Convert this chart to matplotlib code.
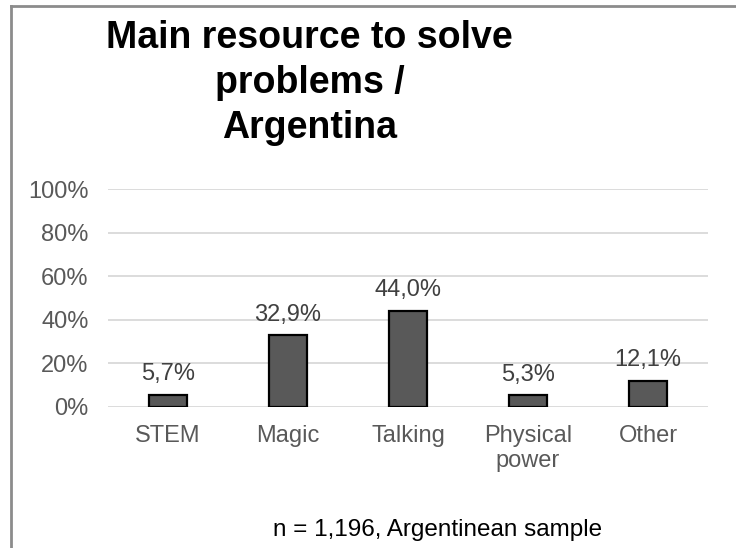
import matplotlib.pyplot as plt
from matplotlib.lines import Line2D

plt.rcParams['font.family'] = ['Liberation Sans', 'DejaVu Sans']

categories = ['STEM', 'Magic', 'Talking', 'Physical\npower', 'Other']
shares = [5.7, 32.9, 44.0, 5.3, 12.1]
value_labels = ['5,7%', '32,9%', '44,0%', '5,3%', '12,1%']
y_ticks = [0, 20, 40, 60, 80, 100]

fig = plt.figure(figsize=(7.36, 5.48), dpi=100)
ax = fig.add_axes([0.1467, 0.2573, 0.8153, 0.3977])

x = range(len(categories))
bars = ax.bar(x, shares, width=0.32, color='#595959', edgecolor='black',
              linewidth=1.6, zorder=3)

for bar, lab in zip(bars, value_labels):
    ax.annotate(lab, (bar.get_x() + bar.get_width() / 2, bar.get_height()),
                xytext=(0, 7), textcoords='offset points', ha='center',
                va='bottom', fontsize=17, color='#404040')

ax.set_xlim(-0.5, len(categories) - 0.5)
ax.set_ylim(0, 100)
ax.set_yticks(y_ticks)
ax.set_yticklabels([f'{t}%' for t in y_ticks])
ax.set_xticks(list(x))
ax.set_xticklabels(categories, linespacing=1.2)
ax.tick_params(axis='both', length=0, labelsize=17, labelcolor='#595959')
ax.tick_params(axis='y', pad=14)
ax.tick_params(axis='x', pad=13)
ax.grid(axis='y', color='#d9d9d9', linewidth=1.3, zorder=0)
for s in ax.spines.values():
    s.set_visible(False)

fig.text(0.421, 0.8485, 'Main resource to solve\nproblems /\nArgentina',
         ha='center', va='center', fontsize=27, fontweight='bold',
         linespacing=1.33)
fig.text(0.595, 0.033, 'n = 1,196, Argentinean sample', ha='center',
         va='center', fontsize=17.5, color='black')

# frame around chart
fig.add_artist(Line2D([0.0145, 0.0145], [0, 0.989], transform=fig.transFigure,
                      color='#8c8c8c', linewidth=2))
fig.add_artist(Line2D([0.0145, 1.0], [0.989, 0.989], transform=fig.transFigure,
                      color='#8c8c8c', linewidth=2))

fig.savefig('out.png', dpi=100)
